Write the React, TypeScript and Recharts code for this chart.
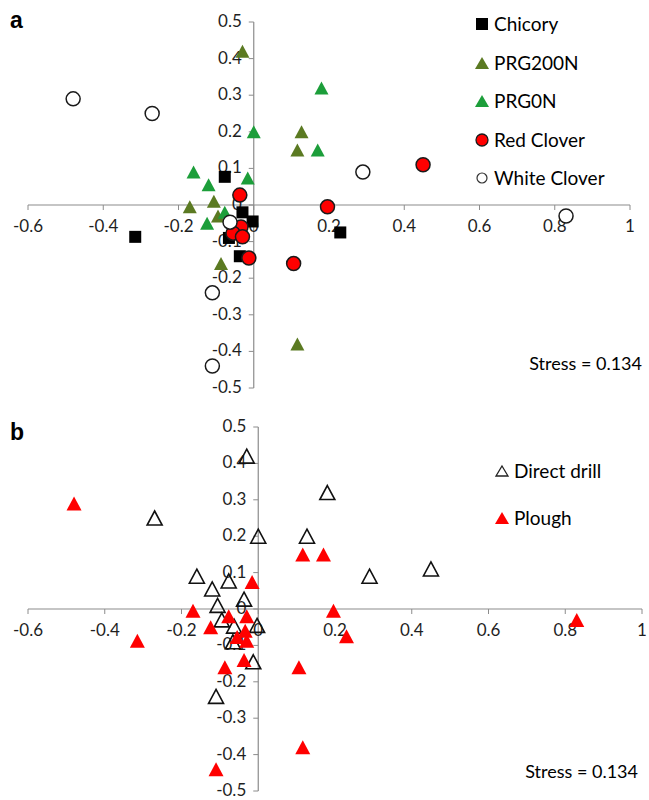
import React from 'react';
import { ScatterChart, Scatter, XAxis, YAxis, ReferenceLine, ReferenceDot, Legend } from 'recharts';

// ---------- data ----------
const xTicks = [-0.6, -0.4, -0.2, 0, 0.2, 0.4, 0.6, 0.8, 1];
const xTickLabels = ['-0.6', '-0.4', '-0.2', '0', '0.2', '0.4', '0.6', '0.8', '1'];
const yTicks = [0.5, 0.4, 0.3, 0.2, 0.1, 0, -0.1, -0.2, -0.3, -0.4, -0.5];
const yTickLabels = ['0.5', '0.4', '0.3', '0.2', '0.1', '0', '-0.1', '-0.2', '-0.3', '-0.4', '-0.5'];

// panel a: by crop
const chicory = [
  { x: -0.077, y: 0.077 }, { x: -0.03, y: -0.02 }, { x: -0.003, y: -0.045 }, { x: -0.066, y: -0.09 },
  { x: 0.23, y: -0.075 }, { x: -0.037, y: -0.14 }, { x: -0.315, y: -0.087 },
];
const prg200n = [
  { x: -0.03, y: 0.42 }, { x: 0.127, y: 0.2 }, { x: 0.116, y: 0.15 }, { x: -0.106, y: 0.01 },
  { x: -0.17, y: -0.005 }, { x: -0.095, y: -0.03 }, { x: -0.087, y: -0.16 }, { x: 0.116, y: -0.38 },
];
const prg0n = [
  { x: 0.18, y: 0.32 }, { x: 0.0, y: 0.2 }, { x: 0.17, y: 0.15 }, { x: -0.16, y: 0.09 },
  { x: -0.016, y: 0.074 }, { x: -0.12, y: 0.055 }, { x: -0.077, y: -0.02 }, { x: -0.124, y: -0.05 },
];
const redClover = [
  { x: -0.037, y: 0.027 }, { x: 0.196, y: -0.005 }, { x: 0.45, y: 0.11 }, { x: -0.034, y: -0.06 },
  { x: -0.055, y: -0.077 }, { x: -0.03, y: -0.087 }, { x: -0.013, y: -0.145 }, { x: 0.106, y: -0.16 },
];
const whiteClover = [
  { x: -0.48, y: 0.29 }, { x: -0.27, y: 0.25 }, { x: 0.29, y: 0.09 }, { x: 0.83, y: -0.03 },
  { x: -0.063, y: -0.047 }, { x: -0.11, y: -0.24 }, { x: -0.11, y: -0.44 },
];

// panel b: by tillage
const directDrill = [
  { x: -0.03, y: 0.42 }, { x: 0.18, y: 0.32 }, { x: 0.0, y: 0.2 }, { x: 0.127, y: 0.2 },
  { x: 0.29, y: 0.09 }, { x: 0.45, y: 0.11 }, { x: -0.16, y: 0.09 }, { x: -0.077, y: 0.077 },
  { x: -0.12, y: 0.055 }, { x: -0.037, y: 0.027 }, { x: -0.106, y: 0.01 }, { x: -0.095, y: -0.03 },
  { x: -0.003, y: -0.045 }, { x: -0.063, y: -0.047 }, { x: -0.066, y: -0.09 }, { x: -0.013, y: -0.145 },
  { x: -0.11, y: -0.24 }, { x: -0.27, y: 0.25 },
];
const plough = [
  { x: 0.116, y: 0.15 }, { x: 0.17, y: 0.15 }, { x: 0.196, y: -0.005 }, { x: 0.83, y: -0.03 },
  { x: 0.23, y: -0.075 }, { x: -0.016, y: 0.074 }, { x: -0.17, y: -0.005 }, { x: -0.077, y: -0.02 },
  { x: -0.03, y: -0.02 }, { x: -0.124, y: -0.05 }, { x: -0.034, y: -0.06 }, { x: -0.055, y: -0.077 },
  { x: -0.03, y: -0.087 }, { x: -0.087, y: -0.16 }, { x: -0.037, y: -0.14 }, { x: 0.106, y: -0.16 },
  { x: -0.48, y: 0.29 }, { x: -0.315, y: -0.087 }, { x: -0.11, y: -0.44 }, { x: 0.116, y: -0.38 },
];

const stressText = 'Stress = 0.134';

// ---------- styles ----------
const FONT = 'Lato, "Open Sans", sans-serif';
const AXIS = '#8c8c8c';
const TICK_TEXT = '#1f1f1f';
const OLIVE = '#5b7a22';
const GREEN = '#1c9e3a';
const RED = '#ff0000';

const square = (s: number) => (p: any) => (
  <rect x={p.cx - s / 2} y={p.cy - s / 2} width={s} height={s} fill="#000" />
);
const triangle = (w: number, h: number, fill: string, stroke = 'none', sw = 0) => (p: any) => (
  <polygon
    points={`${p.cx},${p.cy - h / 2} ${p.cx + w / 2},${p.cy + h / 2} ${p.cx - w / 2},${p.cy + h / 2}`}
    fill={fill}
    stroke={stroke}
    strokeWidth={sw}
    strokeLinejoin="miter"
  />
);
const circle = (r: number, fill: string) => (p: any) => (
  <circle cx={p.cx} cy={p.cy} r={r} fill={fill} stroke="#1a1a1a" strokeWidth={1.5} />
);

const xTickShape = (label: string) => (p: any) => (
  <g>
    <line x1={p.cx} y1={p.cy} x2={p.cx} y2={p.cy + 5} stroke={AXIS} strokeWidth={1} />
    <text x={p.cx} y={p.cy + 27} textAnchor="middle" fontFamily={FONT} fontSize={17} fill={TICK_TEXT}>
      {label}
    </text>
  </g>
);
const yTickShape = (label: string) => (p: any) => (
  <g>
    <line x1={p.cx - 5} y1={p.cy} x2={p.cx} y2={p.cy} stroke={AXIS} strokeWidth={1} />
    <text x={p.cx - 12} y={p.cy + 5} textAnchor="end" fontFamily={FONT} fontSize={17} fill={TICK_TEXT}>
      {label}
    </text>
  </g>
);

const axesElements = () => [
  <ReferenceLine key="hx" y={0} stroke={AXIS} strokeWidth={1.2} />,
  <ReferenceLine key="vy" x={0} stroke={AXIS} strokeWidth={1.2} />,
  ...xTicks.map((t, i) => (
    <ReferenceDot key={'xt' + i} x={t} y={0} r={0} shape={xTickShape(xTickLabels[i])} />
  )),
  ...yTicks.map((t, i) => (
    <ReferenceDot key={'yt' + i} x={0} y={t} r={0} shape={yTickShape(yTickLabels[i])} />
  )),
];

type LegendItem = { name: string; icon: React.ReactNode };

const legendA: LegendItem[] = [
  { name: 'Chicory', icon: <rect x={2} y={2} width={12} height={12} fill="#000" /> },
  { name: 'PRG200N', icon: <polygon points="8,2 15,14 1,14" fill={OLIVE} /> },
  { name: 'PRG0N', icon: <polygon points="8,2 15,14 1,14" fill={GREEN} /> },
  { name: 'Red Clover', icon: <circle cx={8} cy={8} r={6} fill={RED} stroke="#1a1a1a" strokeWidth={1.3} /> },
  { name: 'White Clover', icon: <circle cx={8} cy={8} r={5} fill="#fff" stroke="#333" strokeWidth={1.2} /> },
];
const legendB: LegendItem[] = [
  { name: 'Direct drill', icon: <polygon points="8,3 14,13 2,13" fill="none" stroke="#222" strokeWidth={1.3} /> },
  { name: 'Plough', icon: <polygon points="8,2 15,14 1,14" fill={RED} /> },
];

const makeLegend = (items: LegendItem[], gap: number) => () => (
  <div style={{ position: 'relative', width: 170, height: items.length * gap, fontFamily: FONT, fontSize: 19, color: '#000' }}>
    {items.map((it, i) => (
      <div
        key={it.name}
        style={{ position: 'absolute', left: 0, top: i * gap, height: 24, display: 'flex', alignItems: 'center', whiteSpace: 'nowrap' }}
      >
        <svg width={16} height={16} style={{ display: 'block' }}>{it.icon}</svg>
        <span style={{ marginLeft: 4, lineHeight: '24px' }}>{it.name}</span>
      </div>
    ))}
  </div>
);

const panelLabel: React.CSSProperties = {
  position: 'absolute',
  fontFamily: '"Liberation Sans", Arial, sans-serif',
  fontWeight: 'bold',
  fontSize: 23,
  color: '#000',
  lineHeight: '24px',
};
const stressStyle: React.CSSProperties = {
  position: 'absolute',
  width: 200,
  textAlign: 'right',
  fontFamily: FONT,
  fontSize: 18,
  color: '#000',
  lineHeight: '22px',
};

export default function App() {
  return (
    <div style={{ position: 'absolute', left: 0, top: 0, width: 649, height: 800, background: '#fff', overflow: 'hidden' }}>
      <div style={{ position: 'absolute', left: 0, top: 0 }}>
        <ScatterChart width={649} height={400} margin={{ top: 22, right: 19, bottom: 12, left: 28 }}>
          <XAxis type="number" dataKey="x" domain={[-0.6, 1]} hide allowDataOverflow />
          <YAxis type="number" dataKey="y" domain={[-0.5, 0.5]} hide allowDataOverflow />
          {axesElements()}
          <Scatter name="Chicory" data={chicory} shape={square(12)} isAnimationActive={false} />
          <Scatter name="PRG200N" data={prg200n} shape={triangle(14, 13, OLIVE)} isAnimationActive={false} />
          <Scatter name="PRG0N" data={prg0n} shape={triangle(14, 13, GREEN)} isAnimationActive={false} />
          <Scatter name="Red Clover" data={redClover} shape={circle(7, RED)} isAnimationActive={false} />
          <Scatter name="White Clover" data={whiteClover} shape={circle(7, '#fff')} isAnimationActive={false} />
          <Legend
            layout="vertical"
            align="center"
            verticalAlign="middle"
            content={makeLegend(legendA, 38.5)}
            wrapperStyle={{ position: 'absolute', left: 474, top: 12, width: 170, height: 200 }}
          />
        </ScatterChart>
        <div style={{ ...panelLabel, left: 10, top: 8 }}>a</div>
        <div style={{ ...stressStyle, left: 442, top: 352 }}>{stressText}</div>
      </div>
      <div style={{ position: 'absolute', left: 0, top: 400 }}>
        <ScatterChart width={649} height={400} margin={{ top: 27, right: 7, bottom: 9, left: 28 }}>
          <XAxis type="number" dataKey="x" domain={[-0.6, 1]} hide allowDataOverflow />
          <YAxis type="number" dataKey="y" domain={[-0.5, 0.5]} hide allowDataOverflow />
          {axesElements()}
          <Scatter name="Direct drill" data={directDrill} shape={triangle(15, 14, 'none', '#111', 1.6)} isAnimationActive={false} />
          <Scatter name="Plough" data={plough} shape={triangle(15, 14, RED)} isAnimationActive={false} />
          <Legend
            layout="vertical"
            align="center"
            verticalAlign="middle"
            content={makeLegend(legendB, 47)}
            wrapperStyle={{ position: 'absolute', left: 494, top: 59, width: 170, height: 100 }}
          />
        </ScatterChart>
        <div style={{ ...panelLabel, left: 10, top: 20 }}>b</div>
        <div style={{ ...stressStyle, left: 438, top: 360 }}>{stressText}</div>
      </div>
    </div>
  );
}
